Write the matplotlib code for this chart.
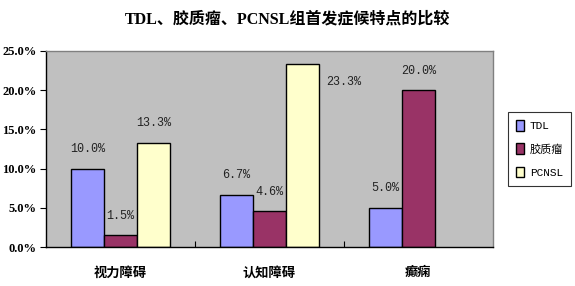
import matplotlib
matplotlib.use("Agg")
from matplotlib import pyplot as plt
import numpy as np

categories = ["视力障碍", "认知障碍", "癫痫"]
series_names = ["TDL", "胶质瘤", "PCNSL"]
tdl = [10.0, 6.7, 5.0]
glioma = [1.5, 4.6, 20.0]
pcnsl = [13.3, 23.3, 0.0]
yticks = [0, 5, 10, 15, 20, 25]

series = [tdl, glioma, pcnsl]
colors = ["#9999FF", "#993366", "#FFFFCC"]
cjk = ["Liberation Serif", "Noto Sans CJK SC"]
lab_font = ["Liberation Mono", "Noto Sans CJK SC"]

fig = plt.figure(figsize=(5.75, 2.86), dpi=100)
ax = fig.add_axes([0.08, 0.136, 0.777, 0.686])
ax.set_facecolor("#C0C0C0")

width = 1 / 4.5
x = np.arange(len(categories))
bars = []
for i, vals in enumerate(series):
    lw = [1.0 if v > 0 else 0 for v in vals]
    b = ax.bar(x + (i - 1) * width, np.array(vals) / 100, width,
               color=colors[i], edgecolor="black", linewidth=lw,
               label=series_names[i], zorder=2)
    bars.append(b)

# value labels (Excel put the tall one beside the bar)
for i, b in enumerate(bars):
    for j, rect in enumerate(b):
        v = series[i][j]
        if v == 0:
            continue
        cx = rect.get_x() + rect.get_width() / 2
        top = rect.get_height()
        if v > 22:
            off = (30, -13)
        else:
            off = (0, 14)
        ax.annotate("%.1f%%" % v, (cx, top), xytext=off, textcoords="offset points",
                    ha="center", va="center", fontsize=8.5, color="#222222",
                    family=lab_font)

ax.set_xlim(-0.5, 2.5)
ax.set_ylim(0, 0.25)
ax.set_yticks([t / 100 for t in yticks])
ax.set_yticklabels(["%.1f%%" % t for t in yticks], family=cjk,
                   fontweight="bold", fontsize=9)
ax.tick_params(axis="y", direction="out", length=4, width=0.8, pad=3)

ax.set_xticks([0.5, 1.5])
ax.set_xticklabels([])
ax.tick_params(axis="x", which="major", direction="in", length=4, width=0.8)
ax.set_xticks(x, minor=True)
ax.set_xticklabels(categories, minor=True, family=cjk, fontweight="bold", fontsize=9.5)
ax.tick_params(axis="x", which="minor", length=0, pad=14)

for s in ["top", "right"]:
    ax.spines[s].set_color("#808080")
    ax.spines[s].set_linewidth(1.0)
for s in ["left", "bottom"]:
    ax.spines[s].set_color("black")
    ax.spines[s].set_linewidth(1.0)

leg = ax.legend(loc="center left", bbox_to_anchor=(1.034, 0.50), borderaxespad=0,
                frameon=True, fancybox=False, edgecolor="black",
                prop={"family": lab_font, "size": 8},
                handlelength=0.7, handleheight=1.1, handletextpad=0.5,
                labelspacing=1.1, borderpad=0.75)
leg.get_frame().set_linewidth(0.8)

fig.suptitle("TDL、胶质瘤、PCNSL组首发症候特点的比较", x=0.5, y=0.96,
             family=cjk, fontweight="bold", fontsize=11.5)

fig.savefig("out.png", dpi=100)
